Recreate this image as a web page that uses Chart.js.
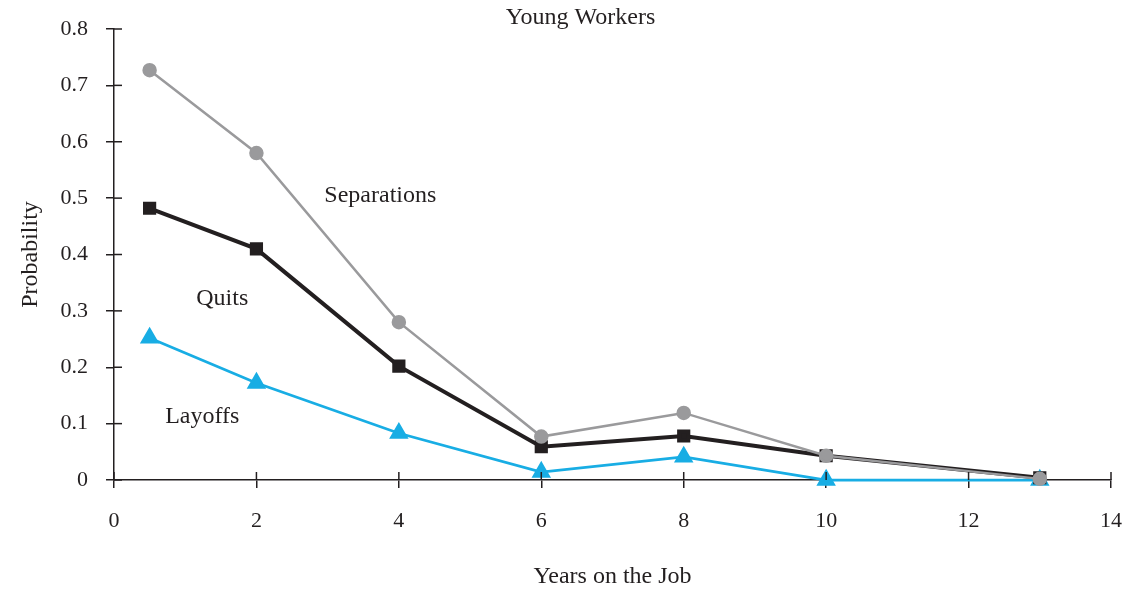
<!DOCTYPE html>
<html>
<head>
<meta charset="utf-8">
<script src="https://cdn.jsdelivr.net/npm/chart.js@4"></script>
<style>
  html, body { margin: 0; padding: 0; background: #fff; }
  #wrap { width: 1129px; height: 591px; }
</style>
</head>
<body>
<div id="wrap"><canvas id="myChart"></canvas></div>
<script>
const years = [0.5, 2, 4, 6, 8, 10, 13];
const separations = [0.727, 0.58, 0.28, 0.077, 0.119, 0.043, 0.002];
const quits = [0.482, 0.41, 0.202, 0.059, 0.078, 0.043, 0.004];
const layoffs = [0.252, 0.172, 0.083, 0.014, 0.041, 0, 0];

const xTicks = [0, 2, 4, 6, 8, 10, 12, 14];
const yTicks = [0, 0.1, 0.2, 0.3, 0.4, 0.5, 0.6, 0.7, 0.8];

// labels placed in data coordinates
const notes = [
  { text: 'Young Workers', x: 6.55, y: 0.82 },
  { text: 'Separations', x: 3.74, y: 0.505 },
  { text: 'Quits', x: 1.52, y: 0.321 },
  { text: 'Layoffs', x: 1.24, y: 0.112 }
];

const INK = '#231f20';
const FONT = "'Liberation Serif', 'DejaVu Serif', serif";

const toPoints = (vals) => vals.map((v, i) => ({ x: years[i], y: v }));

// ticks that cross the axis (inside part) + text notes
const extrasPlugin = {
  id: 'extras',
  afterDraw(chart) {
    const { ctx, scales: { x, y } } = chart;
    ctx.save();
    ctx.strokeStyle = INK;
    ctx.lineWidth = 1.5;
    xTicks.forEach(v => {
      const px = x.getPixelForValue(v);
      ctx.beginPath();
      ctx.moveTo(px, y.bottom);
      ctx.lineTo(px, y.bottom - 8);
      ctx.stroke();
    });
    yTicks.forEach(v => {
      const py = y.getPixelForValue(v);
      ctx.beginPath();
      ctx.moveTo(x.left, py);
      ctx.lineTo(x.left + 8, py);
      ctx.stroke();
    });
    ctx.fillStyle = INK;
    ctx.font = '24px ' + FONT;
    ctx.textAlign = 'center';
    ctx.textBaseline = 'middle';
    notes.forEach(n => {
      ctx.fillText(n.text, x.getPixelForValue(n.x), y.getPixelForValue(n.y));
    });
    ctx.restore();
  }
};

const setup = () => {
  const ctxt = document.getElementById('myChart').getContext('2d');
  new Chart(ctxt, {
    type: 'line',
    data: {
      datasets: [
        {
          label: 'Separations',
          data: toPoints(separations),
          borderColor: '#9a9a9c',
          backgroundColor: '#9a9a9c',
          borderWidth: 2.5,
          pointStyle: 'circle',
          pointRadius: 6,
          clip: false
        },
        {
          label: 'Quits',
          data: toPoints(quits),
          borderColor: INK,
          backgroundColor: INK,
          borderWidth: 4,
          pointStyle: 'rect',
          pointRadius: 6.5,
          clip: false
        },
        {
          label: 'Layoffs',
          data: toPoints(layoffs),
          borderColor: '#18ade4',
          backgroundColor: '#18ade4',
          borderWidth: 2.75,
          pointStyle: 'triangle',
          pointRadius: 8.5,
          clip: false
        }
      ]
    },
    options: {
      responsive: true,
      maintainAspectRatio: false,
      animation: false,
      layout: { padding: { left: 0, right: 18, top: 29, bottom: 0 } },
      plugins: {
        legend: { display: false },
        tooltip: { enabled: false }
      },
      scales: {
        x: {
          type: 'linear',
          min: 0,
          max: 14,
          afterBuildTicks: (s) => { s.ticks = xTicks.map(v => ({ value: v })); },
          afterFit: (s) => { s.height = 111; s.paddingLeft = 0; s.paddingRight = 0; },
          grid: { drawOnChartArea: false, tickLength: 8, color: INK, lineWidth: 1.5 },
          border: { display: true, color: INK, width: 1.5 },
          ticks: { color: INK, font: { family: FONT, size: 22 }, padding: 20, maxRotation: 0 },
          title: { display: true, text: 'Years on the Job', color: INK, font: { family: FONT, size: 24 }, padding: { bottom: 0 } }
        },
        y: {
          type: 'linear',
          min: 0,
          max: 0.8,
          afterBuildTicks: (s) => { s.ticks = yTicks.map(v => ({ value: v })); },
          afterFit: (s) => { s.width = 114; s.paddingTop = 0; s.paddingBottom = 0; },
          grid: { drawOnChartArea: false, tickLength: 8, color: INK, lineWidth: 1.5 },
          border: { display: true, color: INK, width: 1.5 },
          ticks: {
            color: INK,
            font: { family: FONT, size: 22 },
            padding: 18,
            callback: (v) => v === 0 ? '0' : v.toFixed(1)
          },
          title: { display: true, text: 'Probability', color: INK, font: { family: FONT, size: 24 }, padding: { top: 16 } }
        }
      }
    },
    plugins: [extrasPlugin]
  });
};

window.addEventListener('DOMContentLoaded', setup);
</script>
</body>
</html>
